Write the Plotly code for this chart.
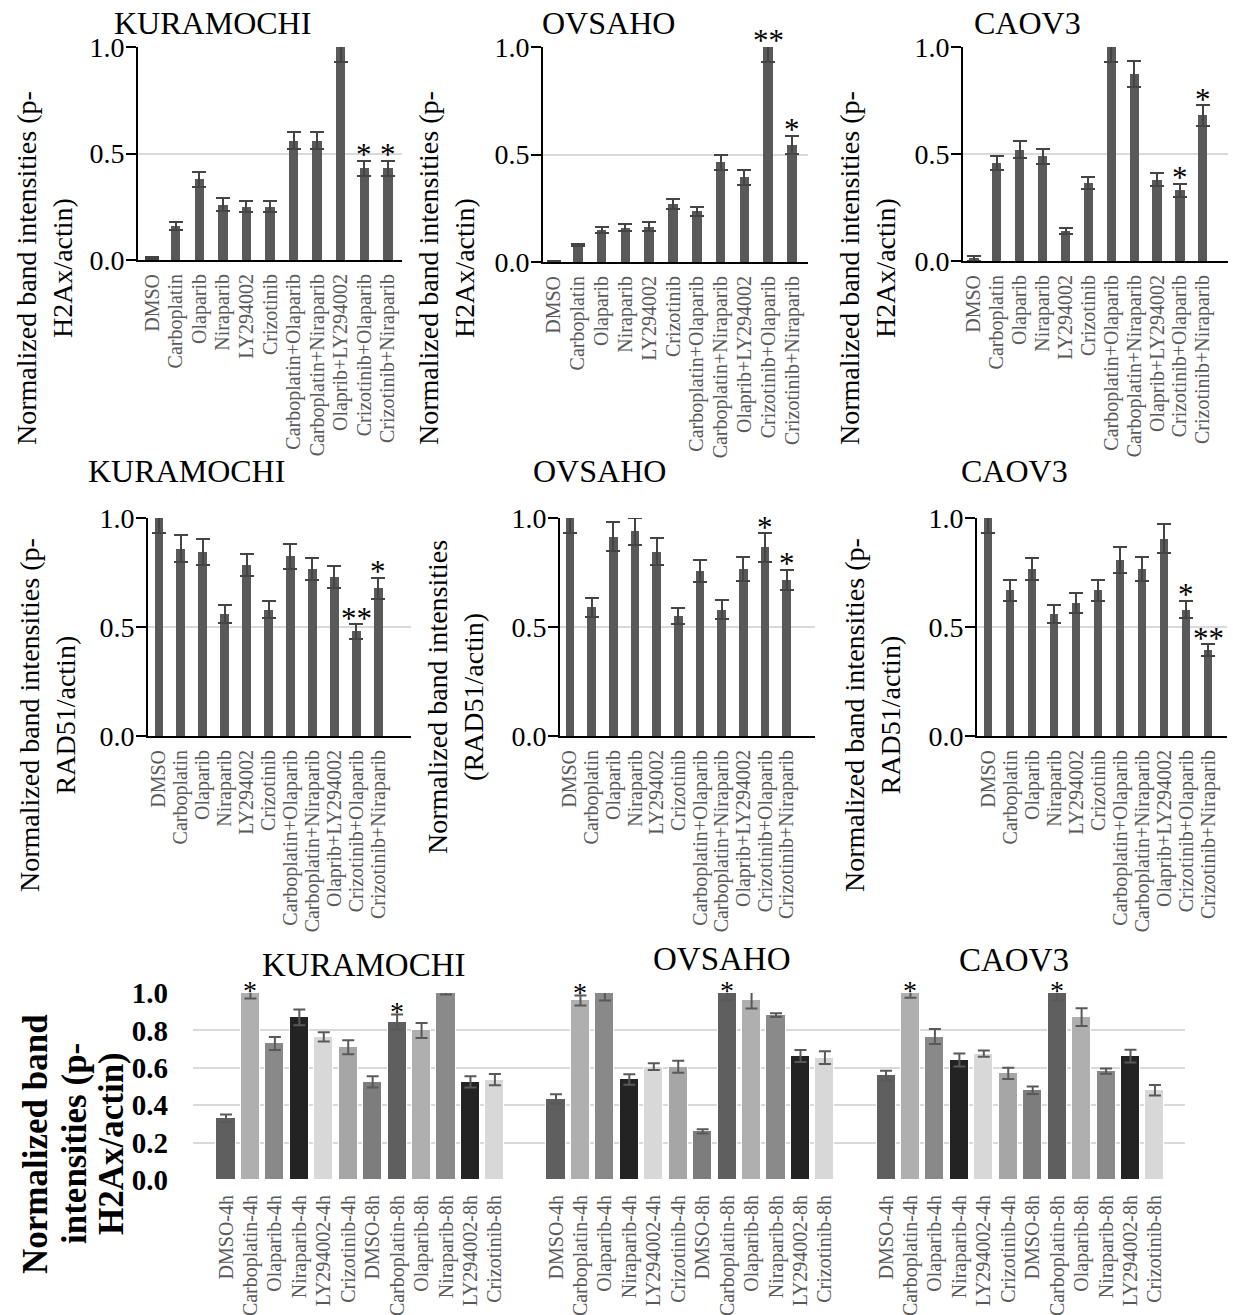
import plotly.graph_objects as go

W, H = 1233, 1315

# ---------------- data ----------------
categories = ["DMSO", "Carboplatin", "Olaparib", "Niraparib", "LY294002", "Crizotinib",
              "Carboplatin+Olaparib", "Carboplatin+Niraparib", "Olaprib+LY294002",
              "Crizotinib+Olaparib", "Crizotinib+Niraparib"]

# p-H2Ax / actin
h2ax_kuramochi = [0.01, 0.16, 0.38, 0.26, 0.25, 0.25, 0.56, 0.56, 1.00, 0.43, 0.43]
h2ax_kuramochi_err = [0.005, 0.02, 0.035, 0.03, 0.025, 0.025, 0.04, 0.04, 0.07, 0.035, 0.035]
h2ax_kuramochi_sig = ["", "", "", "", "", "", "", "", "", "*", "*"]

h2ax_ovsaho = [0.003, 0.08, 0.15, 0.16, 0.165, 0.27, 0.235, 0.465, 0.395, 1.00, 0.545]
h2ax_ovsaho_err = [0.002, 0.006, 0.015, 0.015, 0.02, 0.025, 0.02, 0.035, 0.035, 0.07, 0.042]
h2ax_ovsaho_sig = ["", "", "", "", "", "", "", "", "", "**", "*"]

h2ax_caov3 = [0.012, 0.46, 0.52, 0.49, 0.14, 0.365, 1.00, 0.875, 0.38, 0.33, 0.68]
h2ax_caov3_err = [0.012, 0.033, 0.04, 0.035, 0.012, 0.028, 0.07, 0.06, 0.03, 0.03, 0.048]
h2ax_caov3_sig = ["", "", "", "", "", "", "", "", "", "*", "*"]

# RAD51 / actin
rad51_kuramochi = [1.00, 0.86, 0.845, 0.56, 0.785, 0.58, 0.825, 0.765, 0.728, 0.48, 0.677]
rad51_kuramochi_err = [0.07, 0.06, 0.06, 0.04, 0.05, 0.04, 0.058, 0.05, 0.05, 0.033, 0.048]
rad51_kuramochi_sig = ["", "", "", "", "", "", "", "", "", "**", "*"]

rad51_ovsaho = [1.00, 0.59, 0.915, 0.94, 0.845, 0.55, 0.757, 0.58, 0.766, 0.865, 0.717]
rad51_ovsaho_err = [0.07, 0.045, 0.065, 0.062, 0.062, 0.037, 0.05, 0.042, 0.055, 0.066, 0.046]
rad51_ovsaho_sig = ["", "", "", "", "", "", "", "", "", "*", "*"]

rad51_caov3 = [1.00, 0.668, 0.766, 0.56, 0.61, 0.668, 0.806, 0.766, 0.905, 0.58, 0.393]
rad51_caov3_err = [0.07, 0.049, 0.052, 0.04, 0.047, 0.047, 0.06, 0.054, 0.066, 0.04, 0.028]
rad51_caov3_sig = ["", "", "", "", "", "", "", "", "", "*", "**"]

# p-H2Ax / actin time course (4 h and 8 h)
time_labels = ["DMSO-4h", "Carboplatin-4h", "Olaparib-4h", "Niraparib-4h", "LY294002-4h",
               "Crizotinib-4h", "DMSO-8h", "Carboplatin-8h", "Olaparib-8h", "Niraparib-8h",
               "LY294002-8h", "Crizotinib-8h"]
cell_lines = ["KURAMOCHI", "OVSAHO", "CAOV3"]

tc_kuramochi = [0.33, 1.00, 0.73, 0.87, 0.765, 0.71, 0.525, 0.845, 0.80, 1.00, 0.525, 0.537]
tc_kuramochi_err = [0.02, 0.03, 0.035, 0.042, 0.025, 0.037, 0.03, 0.04, 0.04, 0.008, 0.03, 0.03]
tc_kuramochi_sig = ["", "*", "", "", "", "", "", "*", "", "", "", ""]

tc_ovsaho = [0.434, 0.96, 1.00, 0.538, 0.606, 0.606, 0.26, 1.00, 0.962, 0.882, 0.663, 0.654]
tc_ovsaho_err = [0.025, 0.027, 0.04, 0.028, 0.018, 0.032, 0.012, 0.04, 0.045, 0.01, 0.032, 0.034]
tc_ovsaho_sig = ["", "*", "", "", "", "", "", "*", "", "", "", ""]

tc_caov3 = [0.559, 1.00, 0.767, 0.642, 0.676, 0.57, 0.48, 1.00, 0.871, 0.582, 0.663, 0.48]
tc_caov3_err = [0.025, 0.025, 0.04, 0.035, 0.017, 0.03, 0.02, 0.04, 0.048, 0.014, 0.034, 0.028]
tc_caov3_sig = ["", "*", "", "", "", "", "", "*", "", "", "", ""]

# ---------------- styling ----------------
SERIF = "Liberation Serif, Times New Roman, serif"
BAR_GREY = "#595959"
GRID = "#d9d9d9"
LABEL_GREY = "#595959"
time_palette = ["#5f5f5f", "#afafaf", "#898989", "#232323", "#d8d8d8", "#a6a6a6",
                "#7d7d7d", "#5f5f5f", "#afafaf", "#8a8a8a", "#232323", "#d8d8d8"]
Y_RANGE = [0, 1]


def px_x(px):
    return px / W


def px_y(py):
    return 1 - py / H


def star_pos(v, e):
    # significance marks sit on the visible end of the error bar
    top = min(v + e, Y_RANGE[1])
    return (top - Y_RANGE[0]) / (Y_RANGE[1] - Y_RANGE[0])


fig = go.Figure()
annotations = []
layout = {}

H2AX_TITLE = "Normalized band intensities (p-<br>H2Ax/actin)"

panels = [
    # values, errors, significance, x-domain px, y-domain px (bottom, top), x range,
    # title, title centre px, y title text, y title centre px
    (h2ax_kuramochi, h2ax_kuramochi_err, h2ax_kuramochi_sig, (138, 402), (260, 47), (-0.6, 10.6),
     "KURAMOCHI", (212, 23), H2AX_TITLE, (44, 268)),
    (h2ax_ovsaho, h2ax_ovsaho_err, h2ax_ovsaho_sig, (543, 808), (262, 47), (-0.46, 10.67),
     "OVSAHO", (608, 23), H2AX_TITLE, (446, 268)),
    (h2ax_caov3, h2ax_caov3_err, h2ax_caov3_sig, (963, 1228), (261, 47), (-0.48, 11.1),
     "CAOV3", (1027, 23), H2AX_TITLE, (867, 268)),
    (rad51_kuramochi, rad51_kuramochi_err, rad51_kuramochi_sig, (148, 411), (736, 518), (-0.5, 11.5),
     "KURAMOCHI", (186, 471), "Normalized band intensities (p-<br>RAD51/actin)", (47, 715)),
    (rad51_ovsaho, rad51_ovsaho_err, rad51_ovsaho_sig, (560, 815), (736, 518), (-0.46, 11.3),
     "OVSAHO", (599, 471), "Normalized band intensities<br>(RAD51/actin)", (455, 697)),
    (rad51_caov3, rad51_caov3_err, rad51_caov3_sig, (977, 1227), (736, 518), (-0.5, 10.86),
     "CAOV3", (1014, 471), "Normalized band intensities (p-<br>RAD51/actin)", (872, 715)),
]

for k, (vals, errs, sig, xd, yd, xr, title, tpos, ytitle, ypos) in enumerate(panels, start=1):
    sfx = "" if k == 1 else str(k)
    xs = list(range(len(categories)))
    fig.add_trace(go.Bar(
        x=xs, y=vals, width=0.4,
        marker=dict(color=BAR_GREY, line=dict(width=0)),
        error_y=dict(type="data", array=errs, visible=True, color="#444444",
                     thickness=2, width=7),
        xaxis="x" + sfx, yaxis="y" + sfx, showlegend=False,
    ))
    layout["xaxis" + sfx] = dict(
        domain=[px_x(xd[0]), px_x(xd[1])], range=list(xr), anchor="y" + sfx,
        tickmode="array", tickvals=xs, ticktext=categories, tickangle=-90,
        tickfont=dict(family=SERIF, size=20, color=LABEL_GREY),
        showline=True, linecolor="black", linewidth=2, ticks="",
        showgrid=False, zeroline=False, ticklabelstandoff=4, fixedrange=True,
        automargin=False,
    )
    layout["yaxis" + sfx] = dict(
        domain=[px_y(yd[0]), px_y(yd[1])], range=Y_RANGE, anchor="x" + sfx,
        tickmode="array", tickvals=[0, 0.5, 1.0], ticktext=["0.0", "0.5", "1.0"],
        tickfont=dict(family=SERIF, size=28, color="black"),
        showline=True, linecolor="black", linewidth=2,
        ticks="outside", ticklen=10, tickwidth=2, tickcolor="black",
        showgrid=True, gridcolor=GRID, gridwidth=1.5, zeroline=False, fixedrange=True,
        automargin=False, ticklabelstandoff=-4,
    )
    for i, s in enumerate(sig):
        if s:
            annotations.append(dict(
                x=i, y=star_pos(vals[i], errs[i]), xref="x" + sfx, yref="y" + sfx + " domain",
                text=s, showarrow=False, yanchor="middle", yshift=6,
                font=dict(family=SERIF, size=31, color="black"),
            ))
    annotations.append(dict(
        x=px_x(tpos[0]), y=px_y(tpos[1]), xref="paper", yref="paper",
        text=title, showarrow=False, xanchor="center", yanchor="middle",
        font=dict(family=SERIF, size=32, color="black"),
    ))
    annotations.append(dict(
        x=px_x(ypos[0]), y=px_y(ypos[1]), xref="paper", yref="paper",
        text=ytitle, showarrow=False, textangle=-90, xanchor="center", yanchor="middle",
        font=dict(family=SERIF, size=28, color="black"),
    ))

# ---------------- time course panel ----------------
tc_sets = [(tc_kuramochi, tc_kuramochi_err, tc_kuramochi_sig),
           (tc_ovsaho, tc_ovsaho_err, tc_ovsaho_sig),
           (tc_caov3, tc_caov3_err, tc_caov3_sig)]
GROUP_STEP = 13.5
tick_vals, tick_text = [], []
for g, (vals, errs, sig) in enumerate(tc_sets):
    xs = [g * GROUP_STEP + i for i in range(len(time_labels))]
    tick_vals += xs
    tick_text += time_labels
    fig.add_trace(go.Bar(
        x=xs, y=vals, width=0.78,
        marker=dict(color=time_palette, line=dict(color="white", width=1)),
        error_y=dict(type="data", array=errs, visible=True, color="#595959",
                     thickness=2, width=6),
        xaxis="x7", yaxis="y7", showlegend=False,
    ))
    for i, s in enumerate(sig):
        if s:
            annotations.append(dict(
                x=xs[i], y=star_pos(vals[i], errs[i]), xref="x7", yref="y7 domain",
                text=s, showarrow=False, yanchor="middle", yshift=3,
                font=dict(family=SERIF, size=28, color="black"),
            ))

layout["xaxis7"] = dict(
    domain=[px_x(193), px_x(1185)], range=[-1.35, 2 * GROUP_STEP + 11 + 1.23], anchor="y7",
    tickmode="array", tickvals=tick_vals, ticktext=tick_text, tickangle=-90,
    tickfont=dict(family=SERIF, size=20, color=LABEL_GREY),
    showline=False, ticks="", showgrid=False, zeroline=False,
    ticklabelstandoff=10, fixedrange=True, automargin=False,
)
layout["yaxis7"] = dict(
    domain=[px_y(1180), px_y(993)], range=Y_RANGE, anchor="x7",
    tickmode="array", tickvals=[0, 0.2, 0.4, 0.6, 0.8, 1.0],
    ticktext=["<b>0.0</b>", "<b>0.2</b>", "<b>0.4</b>", "<b>0.6</b>", "<b>0.8</b>", "<b>1.0</b>"],
    tickfont=dict(family=SERIF, size=29, color="black"),
    showline=False, ticks="", showgrid=True, gridcolor=GRID, gridwidth=2,
    zeroline=False, ticklabelstandoff=24, fixedrange=True, automargin=False,
)

for name, cx, cy in zip(cell_lines, [364, 722, 1014], [965, 959, 960]):
    annotations.append(dict(
        x=px_x(cx), y=px_y(cy), xref="paper", yref="paper", text=name,
        showarrow=False, xanchor="center", yanchor="middle",
        font=dict(family=SERIF, size=33, color="black"),
    ))

# bold y title of the time course panel, one line per annotation
for line, cx in zip(["Normalized band", "intensities (p-", "H2Ax/actin)"], [35, 74, 111]):
    annotations.append(dict(
        x=px_x(cx), y=px_y(1144), xref="paper", yref="paper",
        text="<b>" + line + "</b>",
        showarrow=False, textangle=-90, xanchor="center", yanchor="middle",
        font=dict(family=SERIF, size=35, color="black"),
    ))

fig.update_layout(
    width=W, height=H, margin=dict(l=0, r=0, t=0, b=0),
    paper_bgcolor="white", plot_bgcolor="white",
    bargap=0, annotations=annotations, **layout,
)

fig.write_html("out.html")
